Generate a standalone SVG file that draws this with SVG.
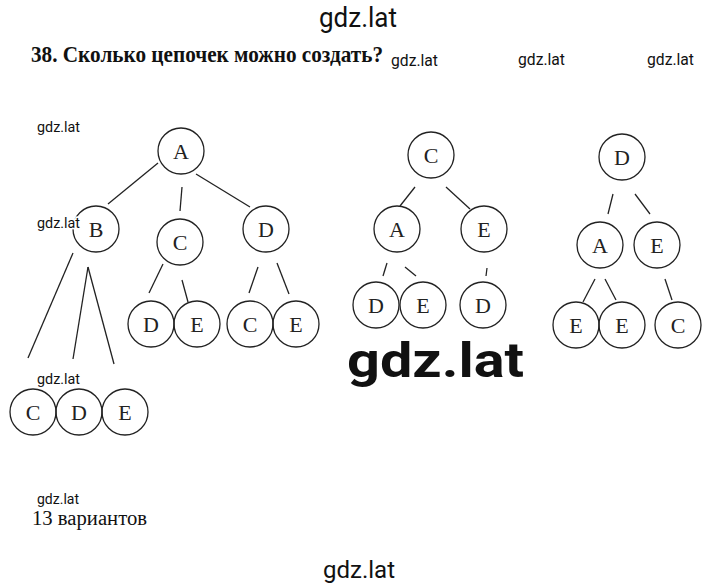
<svg xmlns="http://www.w3.org/2000/svg" width="720" height="586" viewBox="0 0 720 586">
<style>
.n circle{fill:none;stroke:#222;stroke-width:1.3}
.n text{font-family:"Liberation Serif","Times New Roman",serif;font-size:22px;fill:#222;text-anchor:middle}
#edges line{stroke:#222;stroke-width:1.3}
.wm{font-family:Roboto,"Liberation Sans",sans-serif;fill:#111}
.t{font-family:"Liberation Serif","Times New Roman",serif;fill:#111}
</style>
<rect width="720" height="586" fill="#fff"/>
<text class="wm" x="319" y="27" font-size="27" textLength="78" lengthAdjust="spacingAndGlyphs">gdz.lat</text>
<text class="t" x="31" y="62" font-size="23" font-weight="bold" textLength="352" lengthAdjust="spacingAndGlyphs">38. Сколько цепочек можно создать?</text>
<text class="wm" x="391" y="66" font-size="16" textLength="47" lengthAdjust="spacingAndGlyphs">gdz.lat</text>
<text class="wm" x="518" y="65" font-size="16" textLength="47" lengthAdjust="spacingAndGlyphs">gdz.lat</text>
<text class="wm" x="647" y="65" font-size="16" textLength="47" lengthAdjust="spacingAndGlyphs">gdz.lat</text>

<g id="edges">
<line x1="158" y1="163" x2="108" y2="204"/>
<line x1="182" y1="187" x2="180" y2="211"/>
<line x1="196" y1="174" x2="250" y2="207"/>
<line x1="163" y1="264" x2="149" y2="293"/>
<line x1="182" y1="280" x2="188" y2="302"/>
<line x1="258" y1="267" x2="249" y2="293"/>
<line x1="277" y1="263" x2="289" y2="294"/>
<line x1="73" y1="253" x2="28" y2="358"/>
<line x1="88" y1="267" x2="73" y2="359"/>
<line x1="88" y1="267" x2="114" y2="364"/>
<line x1="415" y1="187" x2="400" y2="206"/>
<line x1="446" y1="187" x2="470" y2="209"/>
<line x1="387" y1="263" x2="383" y2="276"/>
<line x1="405" y1="267" x2="416" y2="276"/>
<line x1="487" y1="268" x2="486" y2="276"/>
<line x1="613" y1="194" x2="608" y2="214"/>
<line x1="635" y1="194" x2="650" y2="214"/>
<line x1="595" y1="279" x2="583" y2="302"/>
<line x1="605" y1="279" x2="616" y2="300"/>
<line x1="665" y1="279" x2="672" y2="300"/>
</g>

<g id="t1-A" class="n"><circle cx="181" cy="151" r="23"/><text x="181" y="159">A</text></g>
<g id="t1-B" class="n"><circle cx="96" cy="229" r="23"/><text x="96" y="237">B</text></g>
<g id="t1-C" class="n"><circle cx="180" cy="242" r="23"/><text x="180" y="250">C</text></g>
<g id="t1-D" class="n"><circle cx="266" cy="229" r="23"/><text x="266" y="237">D</text></g>
<g id="t1-CD" class="n"><circle cx="151" cy="324" r="23"/><text x="151" y="332">D</text></g>
<g id="t1-CE" class="n"><circle cx="197" cy="324" r="23"/><text x="197" y="332">E</text></g>
<g id="t1-DC" class="n"><circle cx="250" cy="324" r="23"/><text x="250" y="332">C</text></g>
<g id="t1-DE" class="n"><circle cx="296" cy="324" r="23"/><text x="296" y="332">E</text></g>
<g id="t1-BC" class="n"><circle cx="33" cy="412" r="23"/><text x="33" y="420">C</text></g>
<g id="t1-BD" class="n"><circle cx="79" cy="412" r="23"/><text x="79" y="420">D</text></g>
<g id="t1-BE" class="n"><circle cx="125" cy="412" r="23"/><text x="125" y="420">E</text></g>

<g id="t2-C" class="n"><circle cx="431" cy="155" r="23"/><text x="431" y="163">C</text></g>
<g id="t2-A" class="n"><circle cx="397" cy="229" r="23"/><text x="397" y="237">A</text></g>
<g id="t2-E" class="n"><circle cx="484" cy="229" r="23"/><text x="484" y="237">E</text></g>
<g id="t2-AD" class="n"><circle cx="376" cy="305" r="23"/><text x="376" y="313">D</text></g>
<g id="t2-AE" class="n"><circle cx="423" cy="305" r="23"/><text x="423" y="313">E</text></g>
<g id="t2-ED" class="n"><circle cx="483" cy="305" r="23"/><text x="483" y="313">D</text></g>

<g id="t3-D" class="n"><circle cx="622" cy="157" r="23"/><text x="622" y="165">D</text></g>
<g id="t3-A" class="n"><circle cx="600" cy="245" r="23"/><text x="600" y="253">A</text></g>
<g id="t3-E" class="n"><circle cx="657" cy="245" r="23"/><text x="657" y="253">E</text></g>
<g id="t3-AE1" class="n"><circle cx="576" cy="325" r="23"/><text x="576" y="333">E</text></g>
<g id="t3-AE2" class="n"><circle cx="622" cy="325" r="23"/><text x="622" y="333">E</text></g>
<g id="t3-EC" class="n"><circle cx="678" cy="325" r="23"/><text x="678" y="333">C</text></g>

<text class="wm" x="37" y="132" font-size="14.5" textLength="43" lengthAdjust="spacingAndGlyphs">gdz.lat</text>
<text class="wm" x="37" y="228" font-size="14.5" textLength="43" lengthAdjust="spacingAndGlyphs" stroke="#fff" stroke-width="3" paint-order="stroke">gdz.lat</text>
<text class="wm" x="37" y="384" font-size="14.5" textLength="43" lengthAdjust="spacingAndGlyphs">gdz.lat</text>
<text class="wm" x="347" y="377" font-size="48" font-weight="bold" textLength="177" lengthAdjust="spacingAndGlyphs">gdz.lat</text>
<text class="wm" x="37" y="504" font-size="14.5" textLength="42" lengthAdjust="spacingAndGlyphs">gdz.lat</text>
<text class="t" x="32" y="525" font-size="20" textLength="115" lengthAdjust="spacingAndGlyphs">13 вариантов</text>
<text class="wm" x="323" y="578" font-size="24" textLength="72" lengthAdjust="spacingAndGlyphs">gdz.lat</text>
</svg>
